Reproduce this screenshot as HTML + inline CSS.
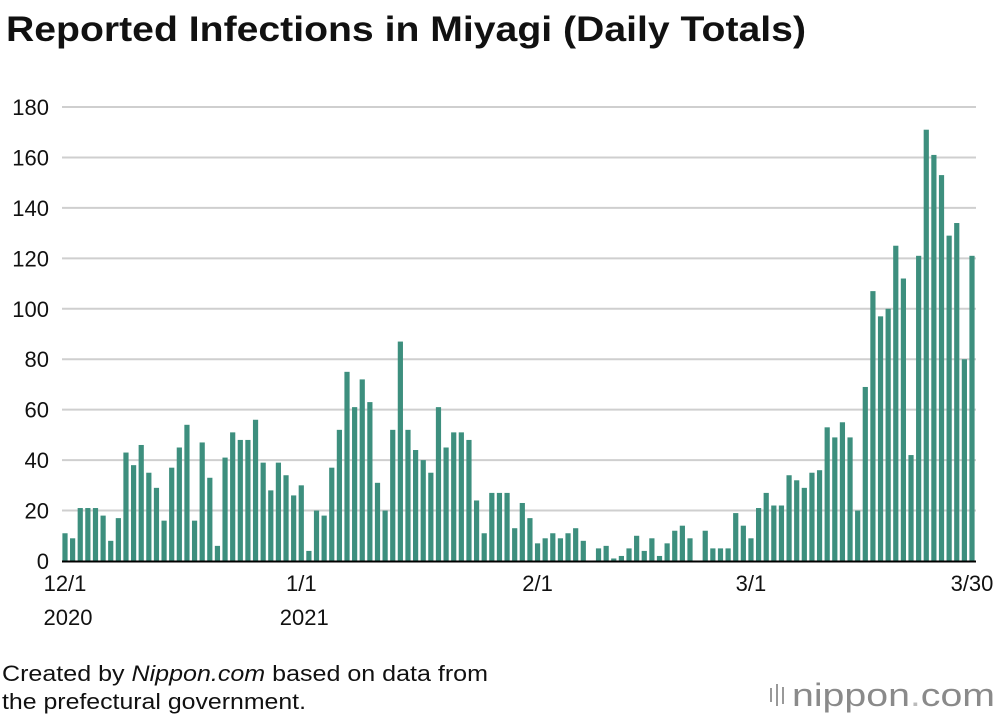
<!DOCTYPE html>
<html><head><meta charset="utf-8"><style>
body{margin:0;background:#fff;width:1000px;height:720px;overflow:hidden;font-family:"Liberation Sans",sans-serif;}
</style></head><body>
<svg width="1000" height="720" xmlns="http://www.w3.org/2000/svg" font-family="Liberation Sans, sans-serif">
<text x="6" y="41" font-size="35" font-weight="bold" fill="#111" textLength="800" lengthAdjust="spacingAndGlyphs">Reported Infections in Miyagi (Daily Totals)</text>
<g id="grid"></g><g id="bars"></g><g id="labels"></g>
<text x="2" y="681" font-size="22" fill="#111" textLength="486" lengthAdjust="spacingAndGlyphs">Created by <tspan font-style="italic">Nippon.com</tspan> based on data from</text>
<text x="2" y="709" font-size="22" fill="#111" textLength="304" lengthAdjust="spacingAndGlyphs">the prefectural government.</text>
<g>
<rect x="770" y="688" width="2" height="14" fill="#999"/><rect x="776" y="684" width="2" height="22" fill="#999"/><rect x="782" y="687" width="2" height="17" fill="#999"/>
<text x="792" y="706" font-size="32" fill="#8a8a8a" textLength="203" lengthAdjust="spacingAndGlyphs">nippon<tspan fill="#bbb">.</tspan>com</text></g>
</svg>
<script>
const yTicks=[0,20,40,60,80,100,120,140,160,180];
const dec=[11,9,21,21,21,18,8,17,43,38,46,35,29,16,37,45,54,16,47,33,6,41,51,48,48,56,39,28,39,34,26];
const jan=[30,4,20,18,37,52,75,61,72,63,31,20,52,87,52,44,40,35,61,45,51,51,48,24,11,27,27,27,13,23,17];
const feb=[7,9,11,9,11,13,8,0,5,6,1,2,5,10,4,9,2,7,12,14,9,0,12,5,5,5,19,14];
const mar=[9,21,27,22,22,34,32,29,35,36,53,49,55,49,20,69,107,97,100,125,112,42,121,171,161,153,129,134,80,121];
const xLabels=[{i:0,t:"12/1",s:"2020"},{i:31,t:"1/1",s:"2021"},{i:62,t:"2/1",s:""},{i:90,t:"3/1",s:""},{i:119,t:"3/30",s:""}];
const values=dec.concat(jan,feb,mar);
const NS="http://www.w3.org/2000/svg";
const x0=62,x1=976,yB=561,yT=107;
const step=(972-65)/(values.length-1);
const X=i=>65+i*step;
const Y=v=>yB-(v/180)*(yB-yT);
function mk(t,a,p){const e=document.createElementNS(NS,t);for(const k in a)e.setAttribute(k,a[k]);p.appendChild(e);return e;}
const g=document.getElementById('grid'),b=document.getElementById('bars'),l=document.getElementById('labels');
yTicks.forEach(v=>{
 if(v>0){const ln=mk('line',{x1:x0,x2:x1,y1:Y(v),y2:Y(v),stroke:'#cfcfcf','stroke-width':2},g);
 
 }
 const t=mk('text',{x:49,y:Y(v)+8,'font-size':22,'text-anchor':'end',fill:'#111'},l);t.textContent=v;
 
 
});
values.forEach((v,i)=>{
 const r=mk('rect',{x:X(i)-2.6,y:Y(v),width:5.2,height:yB-Y(v),fill:'#3d8f7e'},b);
 
 
});
const ax=mk('line',{x1:x0,x2:x1,y1:yB+0.5,y2:yB+0.5,stroke:'#000','stroke-width':2},l);


xLabels.forEach(d=>{
 const t=mk('text',{x:X(d.i),y:591,'font-size':22,'text-anchor':'middle',fill:'#111'},l);t.textContent=d.t;
 
 
 if(d.s){const s=mk('text',{x:X(d.i)+3,y:625,'font-size':22,'text-anchor':'middle',fill:'#111'},l);s.textContent=d.s;
 
 }
});
</script>
</body></html>
